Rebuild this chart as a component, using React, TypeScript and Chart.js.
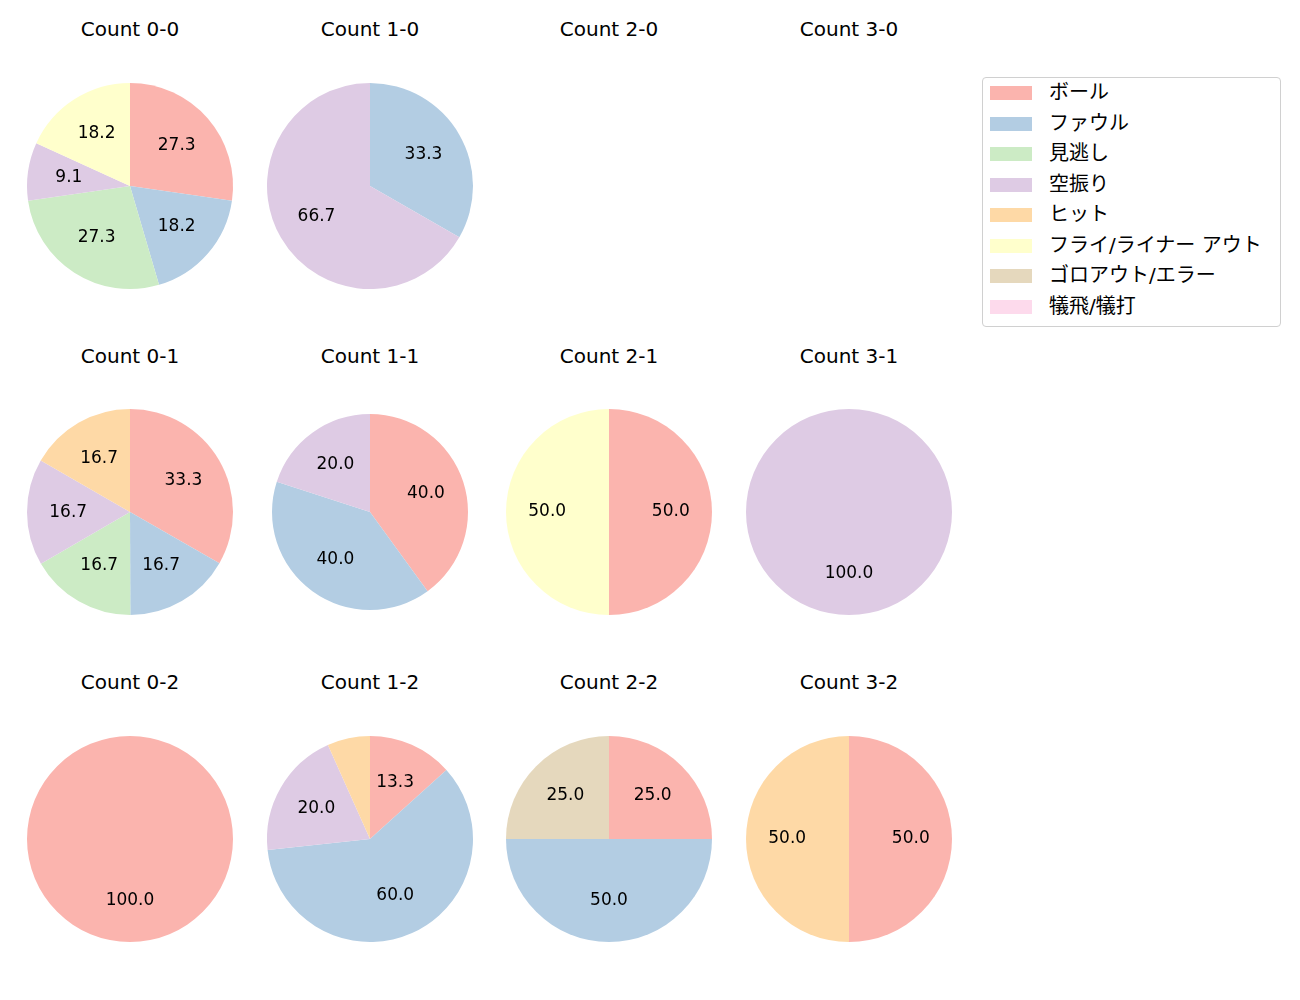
import React, { useEffect, useRef } from "react";
import { Chart, registerables } from "chart.js";

Chart.register(...registerables);

const categories = ["ボール", "ファウル", "見逃し", "空振り", "ヒット", "フライ/ライナー アウト", "ゴロアウト/エラー", "犠飛/犠打"];
const colors = ["#fbb4ae", "#b3cde3", "#ccebc5", "#decbe4", "#fed9a6", "#ffffcc", "#e5d8bd", "#fddaec"];

const titles = [
  "Count 0-0", "Count 1-0", "Count 2-0", "Count 3-0",
  "Count 0-1", "Count 1-1", "Count 2-1", "Count 3-1",
  "Count 0-2", "Count 1-2", "Count 2-2", "Count 3-2",
];

// percentages per category, in category order
const count00 = [27.3, 18.2, 27.3, 9.1, 0, 18.2, 0, 0];
const count10 = [0, 33.3, 0, 66.7, 0, 0, 0, 0];
const count20: number[] = [];
const count30: number[] = [];
const count01 = [33.3, 16.7, 16.7, 16.7, 16.7, 0, 0, 0];
const count11 = [40.0, 40.0, 0, 20.0, 0, 0, 0, 0];
const count21 = [50.0, 0, 0, 0, 0, 50.0, 0, 0];
const count31 = [0, 0, 0, 100.0, 0, 0, 0, 0];
const count02 = [100.0, 0, 0, 0, 0, 0, 0, 0];
const count12 = [13.3, 60.0, 0, 20.0, 6.7, 0, 0, 0];
const count22 = [25.0, 50.0, 0, 0, 0, 0, 25.0, 0];
const count32 = [50.0, 0, 0, 0, 50.0, 0, 0, 0];

const seriesList = [count00, count10, count20, count30, count01, count11, count21, count31, count02, count12, count22, count32];

const colCenters = [130, 370, 609, 849];
const rowCenters = [186, 512, 839];
const titleYs = [29, 356, 682];
const FONT = "'DejaVu Sans', 'Noto Sans CJK JP', sans-serif";
const CANVAS = 240;

const pctLabels = {
  id: "pctLabels",
  afterDatasetsDraw(chart: any) {
    const ctx = chart.ctx;
    const meta = chart.getDatasetMeta(0);
    const data = chart.data.datasets[0].data as number[];
    const total = data.reduce((a, b) => a + b, 0);
    ctx.save();
    ctx.fillStyle = "#000";
    ctx.font = `17px ${FONT}`;
    ctx.textAlign = "center";
    ctx.textBaseline = "middle";
    meta.data.forEach((arc: any, i: number) => {
      const v = data[i];
      if (!v) return;
      const pct = (v / total) * 100;
      if (pct < 7) return;
      const p = arc.getProps(["x", "y", "startAngle", "endAngle", "outerRadius"], true);
      const mid = (p.startAngle + p.endAngle) / 2;
      const r = p.outerRadius * 0.6;
      ctx.fillText(pct.toFixed(1), p.x + Math.cos(mid) * r, p.y + Math.sin(mid) * r);
    });
    ctx.restore();
  },
};

function Pie({ values, radius }: { values: number[]; radius: number }) {
  const ref = useRef<HTMLCanvasElement>(null);
  useEffect(() => {
    if (!ref.current || values.length === 0) return;
    const chart = new Chart(ref.current, {
      type: "pie",
      data: {
        labels: categories,
        datasets: [{ data: values, backgroundColor: colors, borderWidth: 0 }],
      },
      options: {
        responsive: false,
        maintainAspectRatio: false,
        animation: false,
        radius: radius,
        layout: { padding: 0 },
        plugins: { legend: { display: false }, tooltip: { enabled: false }, title: { display: false } },
      },
      plugins: [pctLabels],
    });
    return () => chart.destroy();
  }, [values, radius]);
  return <canvas ref={ref} width={CANVAS} height={CANVAS} style={{ width: CANVAS, height: CANVAS }} />;
}

export default function App() {
  return (
    <div style={{ position: "absolute", left: 0, top: 0, width: 1300, height: 1000, background: "#fff", fontFamily: FONT }}>
      {titles.map((t, i) => {
        const c = i % 4;
        const r = Math.floor(i / 4);
        return (
          <React.Fragment key={t}>
            <div
              style={{
                position: "absolute",
                left: colCenters[c] - 100,
                width: 200,
                top: titleYs[r] - 12,
                height: 24,
                lineHeight: "24px",
                textAlign: "center",
                fontSize: 20,
                color: "#000",
              }}
            >
              {t}
            </div>
            {seriesList[i].length > 0 && (
              <div style={{ position: "absolute", left: colCenters[c] - CANVAS / 2, top: rowCenters[r] - CANVAS / 2, width: CANVAS, height: CANVAS }}>
                <Pie values={seriesList[i]} radius={i === 5 ? 98 : 103} />
              </div>
            )}
          </React.Fragment>
        );
      })}
      <div
        style={{
          position: "absolute",
          left: 982,
          top: 77,
          width: 297,
          height: 248,
          border: "1px solid #d0d0d0",
          borderRadius: 4,
          boxSizing: "content-box",
        }}
      >
        {categories.map((cat, i) => (
          <div key={cat} style={{ position: "absolute", left: 0, top: 8 + i * 30.5, height: 14, width: 297 }}>
            <div style={{ position: "absolute", left: 7, top: 0, width: 42, height: 14, background: colors[i] }} />
            <div style={{ position: "absolute", left: 66, top: -7, height: 26, lineHeight: "26px", fontSize: 20, color: "#000", whiteSpace: "nowrap" }}>
              {cat}
            </div>
          </div>
        ))}
      </div>
    </div>
  );
}
